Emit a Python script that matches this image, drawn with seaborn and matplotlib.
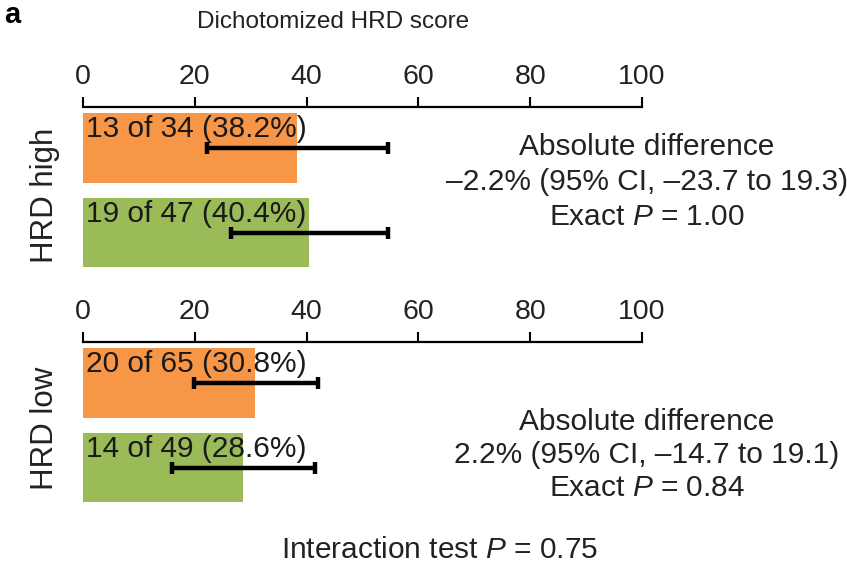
import matplotlib
matplotlib.use("Agg")
import matplotlib.pyplot as plt
import numpy as np
import pandas as pd
import seaborn as sns

# Response counts per HRD subgroup and treatment arm
subgroups = ["HRD high", "HRD low"]
arms = ["Arm 1", "Arm 2"]
responders = {"HRD high": [13, 19], "HRD low": [20, 14]}
patients = {"HRD high": [34, 47], "HRD low": [65, 49]}
ci_low = {"HRD high": [22.2, 26.5], "HRD low": [19.8, 15.9]}
ci_high = {"HRD high": [54.5, 54.6], "HRD low": [42.0, 41.5]}
ticks = [0, 20, 40, 60, 80, 100]

diff_text = {
    "HRD high": ["Absolute difference",
                 "\u20132.2% (95% CI, \u201323.7 to 19.3)",
                 "Exact $P$ = 1.00"],
    "HRD low": ["Absolute difference",
                "2.2% (95% CI, \u201314.7 to 19.1)",
                "Exact $P$ = 0.84"],
}
interaction_text = "Interaction test $P$ = 0.75"
title_text = "Dichotomized HRD score"

colors = ["#F79646", "#9BBB59"]
FS = 21.5

sns.set_theme(style="white")
plt.rcParams["font.family"] = ["Liberation Sans", "DejaVu Sans"]
plt.rcParams["mathtext.fontset"] = "custom"
plt.rcParams["mathtext.rm"] = "Liberation Sans"
plt.rcParams["mathtext.it"] = "Liberation Sans:italic"
plt.rcParams["text.color"] = "#222222"

fig = plt.figure(figsize=(8.47, 5.68), dpi=100)
fig.patch.set_facecolor("white")

W, H = 847.0, 568.0
ax_left = 83 / W
ax_width = (642 - 83) / W
ax_height = 176 / H
panel_tops = {"HRD high": 107, "HRD low": 342}
label_y = {"HRD high": 195, "HRD low": 428}
text_rows = {"HRD high": [147, 182, 217], "HRD low": [422, 455, 488]}

for grp in subgroups:
    top_px = panel_tops[grp]
    ax = fig.add_axes([ax_left, 1 - (top_px + 176) / H, ax_width, ax_height])
    n_resp = np.array(responders[grp])
    n_tot = np.array(patients[grp])
    pct = 100.0 * n_resp / n_tot
    df = pd.DataFrame({"arm": arms, "pct": pct})
    sns.barplot(data=df, x="pct", y="arm", hue="arm", palette=colors,
                orient="h", width=0.82, ax=ax, legend=False,
                saturation=1.0, linewidth=0)

    lo = np.array(ci_low[grp])
    hi = np.array(ci_high[grp])
    ypos = np.arange(len(arms))
    ax.errorbar(x=(lo + hi) / 2, y=ypos, xerr=(hi - lo) / 2, fmt="none",
                ecolor="black", elinewidth=3.2, capsize=4, capthick=3.2,
                zorder=4)

    for i in range(len(arms)):
        ax.text(0.6, ypos[i] - 0.22,
                f"{n_resp[i]} of {n_tot[i]} ({pct[i]:.1f}%)",
                ha="left", va="center", fontsize=FS, color="#1a1a1a",
                zorder=5)

    ax.set_xlim(0, 100)
    ax.set_ylim(1.594, -0.482)
    ax.set_xticks(ticks)
    ax.set_xticklabels([str(t) for t in ticks])
    ax.xaxis.tick_top()
    ax.tick_params(axis="x", which="major", direction="out", length=7,
                   width=1.5, pad=5, labelsize=20.5, colors="black",
                   labelcolor="#222222", top=True, bottom=False)
    ax.set_yticks([])
    ax.set_xlabel("")
    ax.set_ylabel("")
    for side in ["left", "right", "bottom"]:
        ax.spines[side].set_visible(False)
    ax.spines["top"].set_visible(True)
    ax.spines["top"].set_linewidth(1.6)
    ax.spines["top"].set_color("black")
    ax.set_facecolor("none")

    fig.text(45 / W, 1 - label_y[grp] / H, grp, rotation=90,
             ha="center", va="center", fontsize=22.5)

    for line, ypx in zip(diff_text[grp], text_rows[grp]):
        fig.text(647 / W, 1 - ypx / H, line, ha="center", va="center",
                 fontsize=FS)

fig.text(333 / W, 1 - 22 / H, title_text, ha="center", va="center",
         fontsize=17.5)
fig.text(440 / W, 1 - 550 / H, interaction_text, ha="center", va="center",
         fontsize=FS)
fig.text(4 / W, 1 - 15 / H, "a", ha="left", va="center", fontsize=21,
         fontweight="bold", color="black")

fig.savefig("out.png", dpi=100, facecolor="white")
